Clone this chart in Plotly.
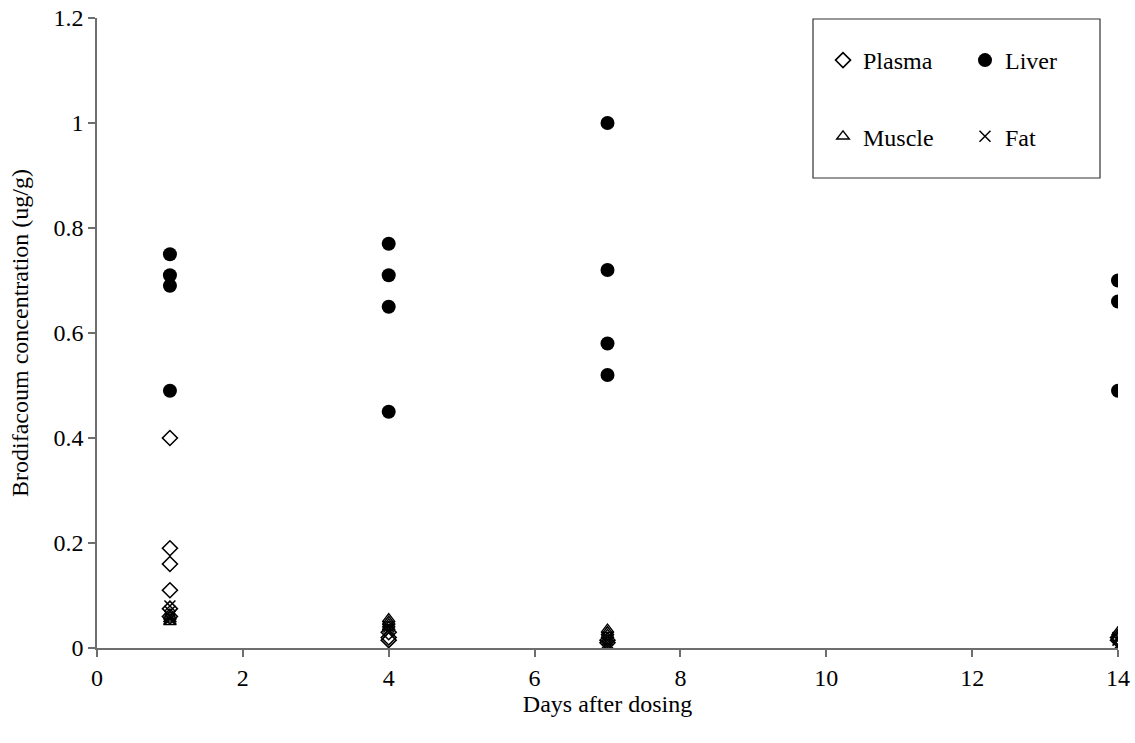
import plotly.graph_objects as go

# Brodifacoum residues by tissue, sampled 1, 4, 7 and 14 days after dosing
plasma_days = [1, 1, 1, 1, 1, 1, 4, 4, 4, 7, 7, 14, 14]
plasma_conc = [0.40, 0.19, 0.16, 0.11, 0.075, 0.06, 0.03, 0.02, 0.015, 0.015, 0.01, 0.02, 0.015]

liver_days = [1, 1, 1, 1, 4, 4, 4, 4, 7, 7, 7, 7, 14, 14, 14]
liver_conc = [0.75, 0.71, 0.69, 0.49, 0.77, 0.71, 0.65, 0.45, 1.00, 0.72, 0.58, 0.52, 0.70, 0.66, 0.49]

muscle_days = [1, 1, 1, 4, 4, 4, 4, 7, 7, 7, 14, 14, 14]
muscle_conc = [0.06, 0.055, 0.05, 0.055, 0.05, 0.045, 0.04, 0.035, 0.03, 0.025, 0.03, 0.025, 0.02]

fat_days = [1, 1, 1, 1, 4, 4, 4, 7, 7, 7, 7, 14, 14, 14]
fat_conc = [0.08, 0.07, 0.06, 0.055, 0.04, 0.035, 0.03, 0.02, 0.015, 0.01, 0.005, 0.02, 0.015, 0.005]

x_ticks = [0, 2, 4, 6, 8, 10, 12, 14]
y_ticks = [0, 0.2, 0.4, 0.6, 0.8, 1.0, 1.2]
y_tick_text = ["0", "0.2", "0.4", "0.6", "0.8", "1", "1.2"]

SERIF = "Liberation Serif"
W, H = 1135, 743
L, R, T, B = 97, 17, 18, 95
pw, ph = W - L - R, H - T - B


def px_x(p):
    return (p - L) / pw


def px_y(p):
    return (H - B - p) / ph


fig = go.Figure()
fig.add_trace(go.Scatter(
    x=plasma_days, y=plasma_conc, mode="markers", name="Plasma",
    legend="legend", legendgroup="plasma",
    marker=dict(symbol="diamond-open", size=11.5, color="black", line=dict(width=1.6)),
))
fig.add_trace(go.Scatter(
    x=liver_days, y=liver_conc, mode="markers", name="Liver",
    legend="legend2", legendgroup="liver",
    marker=dict(symbol="circle", size=14, color="black"),
))
fig.add_trace(go.Scatter(
    x=muscle_days, y=muscle_conc, mode="markers", name="Muscle",
    legend="legend", legendgroup="muscle",
    marker=dict(symbol="triangle-up-open", size=11, color="black", line=dict(width=1.4)),
))
fig.add_trace(go.Scatter(
    x=fat_days, y=fat_conc, mode="markers", name="Fat",
    legend="legend2", legendgroup="fat",
    marker=dict(symbol="x-thin-open", size=11, color="black", line=dict(width=1.5)),
))

legend_common = dict(
    font=dict(family=SERIF, size=24, color="black"),
    bgcolor="rgba(0,0,0,0)", borderwidth=0,
    traceorder="grouped", tracegroupgap=42,
    xanchor="left", yanchor="top", itemsizing="trace",
)

fig.update_layout(
    width=W, height=H,
    margin=dict(l=L, r=R, t=T, b=B, autoexpand=False),
    paper_bgcolor="white", plot_bgcolor="white",
    font=dict(family=SERIF, size=24, color="black"),
    showlegend=True,
    legend=dict(x=px_x(823), y=px_y(38), **legend_common),
    legend2=dict(x=px_x(965), y=px_y(38), **legend_common),
    xaxis=dict(
        range=[0, 14], tickvals=x_ticks, showgrid=False, zeroline=False,
        showline=True, linecolor="#6e6e6e", linewidth=1.5,
        ticks="outside", ticklen=7, tickcolor="#6e6e6e", tickwidth=1.5,
        tickfont=dict(family=SERIF, size=24),
        title=dict(text="Days after dosing", font=dict(family=SERIF, size=24), standoff=0),
    ),
    yaxis=dict(
        range=[0, 1.2], tickvals=y_ticks, ticktext=y_tick_text,
        showgrid=False, zeroline=False,
        showline=True, linecolor="#6e6e6e", linewidth=1.5,
        ticks="outside", ticklen=7, tickcolor="#6e6e6e", tickwidth=1.5,
        tickfont=dict(family=SERIF, size=24),
        title=dict(text="Brodifacoum concentration (ug/g)", font=dict(family=SERIF, size=24), standoff=18),
    ),
    shapes=[dict(
        type="rect", xref="paper", yref="paper",
        x0=px_x(813), x1=px_x(1100), y0=px_y(178), y1=px_y(19),
        line=dict(color="#333", width=1.2), fillcolor="rgba(0,0,0,0)",
    )],
)

fig.write_html("out.html")
